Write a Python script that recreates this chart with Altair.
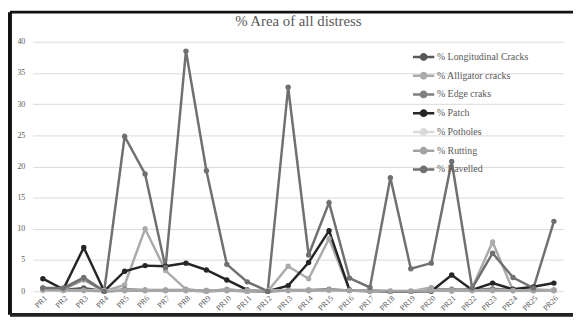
import altair as alt
import pandas as pd

categories = [f"PR{i}" for i in range(1, 27)]

series_names = ["% Longitudinal Cracks", "% Alligator cracks", "% Edge craks",
                "% Patch", "% Potholes", "% Rutting", "% Ravelled"]
series_colors = ["#595959", "#ababab", "#808080", "#262626", "#d9d9d9", "#a3a3a3", "#707070"]

longitudinal = [0.4, 0.2, 0.5, 0, 0.1, 0.1, 0.1, 0.1, 0, 0.1, 0, 0, 0.1, 0.1, 0.2, 0.1,
                0, 0, 0, 0.1, 0.1, 0.1, 0.2, 0.1, 0.1, 0.1]
alligator = [0.3, 0.3, 1.8, 0, 1.0, 10.0, 3.3, 0.3, 0, 0.3, 0, 0, 4.0, 2.0, 8.4, 0.2,
             0, 0, 0, 0.6, 0, 0.5, 7.9, 0.1, 0.3, 0.1]
edge = [0.5, 0.3, 2.0, 0, 0.3, 0.2, 0.2, 0.2, 0.1, 0.2, 0.1, 0, 0.2, 0.2, 0.3, 0.1,
        0.1, 0, 0, 0.2, 0.3, 0.2, 0.4, 0.2, 0.1, 0.2]
patch = [2.0, 0.3, 7.0, 0, 3.2, 4.1, 4.0, 4.5, 3.4, 1.8, 0.2, 0, 0.9, 4.6, 9.7, 0.2,
         0.1, 0, 0, 0, 2.6, 0.2, 1.3, 0.3, 0.7, 1.3]
potholes = [0.1] * 26
rutting = [0.2, 0.1, 0.1, 0, 0.1, 0.1, 0.1, 0.1, 0.1, 0.1, 0.1, 0, 0.1, 0.1, 0.2, 0.1,
           0.1, 0, 0, 0.1, 0.1, 0.1, 0.1, 0.1, 0.1, 0.1]
ravelled = [0.5, 0.5, 2.2, 0, 24.8, 18.8, 3.8, 38.5, 19.3, 4.3, 1.5, 0, 32.7, 5.8, 14.2, 2.1,
            0.6, 18.2, 3.6, 4.5, 20.8, 0.5, 6.1, 2.2, 0.5, 11.2]

values = [longitudinal, alligator, edge, patch, potholes, rutting, ravelled]

rows = []
for name, vals in zip(series_names, values):
    for c, v in zip(categories, vals):
        rows.append({"PR": c, "Series": name, "Value": v})
df = pd.DataFrame(rows)

FONT = "Liberation Serif"
TXT = "#595959"

color = alt.Color(
    "Series:N",
    scale=alt.Scale(domain=series_names, range=series_colors),
    sort=series_names,
    legend=alt.Legend(
        title=None, orient="none", legendX=386, legendY=5,
        symbolType="M-1.2,0L1.2,0M-0.3,0A0.3,0.3 0 1,1 0.3,0A0.3,0.3 0 1,1 -0.3,0",
        symbolSize=324, symbolStrokeWidth=2.5, rowPadding=0,
        labelFont=FONT, labelFontSize=10, labelColor=TXT, labelOffset=3,
    ),
)

x = alt.X("PR:N", sort=categories, title=None,
          scale=alt.Scale(paddingInner=1, paddingOuter=0.5),
          axis=alt.Axis(labelAngle=-45, labelFont=FONT, labelFontSize=8, labelColor=TXT,
                        ticks=False, domain=False, grid=False, labelPadding=3))
y = alt.Y("Value:Q", title=None, scale=alt.Scale(domain=[0, 40]),
          axis=alt.Axis(values=list(range(0, 41, 5)), labelFont=FONT, labelFontSize=8,
                        labelColor=TXT, ticks=False, domain=False, gridColor="#d9d9d9",
                        labelPadding=8))

base = alt.Chart(df)
lines = base.mark_line(strokeWidth=2.5).encode(x=x, y=y, color=color, order=alt.Order("Series:N"))
points = base.mark_point(filled=True, size=30, opacity=1).encode(x=x, y=y, color=color)

fr = alt.Chart(pd.DataFrame({"a": [0]}))
left_edge = fr.mark_rule(color="#111111", strokeWidth=4).encode(
    x=alt.value(-23), y=alt.value(-30), y2=alt.value(277))
top_edge = fr.mark_rule(color="#111111", strokeWidth=3).encode(
    x=alt.value(-23), x2=alt.value(560), y=alt.value(-30))
bottom_edge = fr.mark_rule(color="#222222", strokeWidth=4).encode(
    x=alt.value(-23), x2=alt.value(560), y=alt.value(277))

chart = alt.layer(lines, points, left_edge, top_edge, bottom_edge).properties(
    width=539, height=253,
    title=alt.TitleParams("% Area of all distress", font=FONT, fontSize=15,
                          fontWeight="normal", color=TXT, offset=0, dy=19, frame="group"),
    autosize=alt.AutoSizeParams(type="none"),
    padding={"left": 25, "top": 32, "right": 9, "bottom": 26},
).configure_view(stroke=None)

chart.save("out.html", embed_options={"renderer": "svg", "actions": False})
